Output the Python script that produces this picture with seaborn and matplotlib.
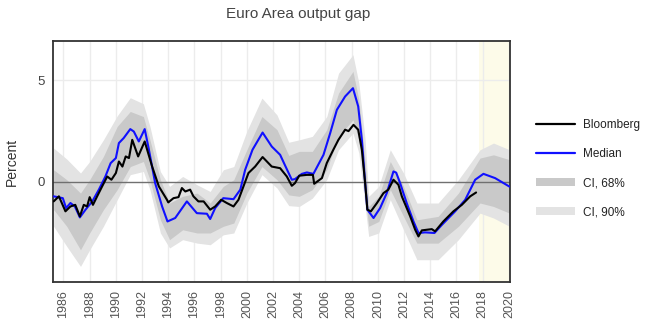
import numpy as np
import pandas as pd
import matplotlib
matplotlib.use("Agg")
import matplotlib.pyplot as plt
from matplotlib.patches import Patch
from matplotlib.lines import Line2D
import seaborn as sns

# ---------------- data ----------------
median_t = [1985.25, 1985.95, 1986.2, 1986.53, 1986.87, 1987.25, 1987.68, 1988.2, 1988.7, 1989.2,
            1989.6, 1990.0, 1990.23, 1990.6, 1991.1, 1991.37, 1991.75, 1992.2, 1992.5, 1993.0,
            1993.53, 1993.94, 1994.53, 1995.42, 1996.18, 1996.95, 1997.2, 1997.58, 1998.2, 1998.98,
            1999.5, 1999.87, 2000.43, 2001.2, 2001.9, 2002.54, 2002.92, 2003.43, 2003.67, 2004.2,
            2004.58, 2005.08, 2005.85, 2006.36, 2006.87, 2007.5, 2008.1, 2008.5, 2008.78, 2009.03,
            2009.2, 2009.67, 2010.17, 2010.68, 2011.19, 2011.4, 2011.7, 2012.2, 2012.72, 2013.1,
            2013.61, 2014.32, 2014.9, 2015.9, 2016.67, 2017.43, 2018.06, 2018.95, 2020.05]
median_v = [-0.72, -0.81, -1.3, -1.05, -1.22, -1.76, -1.38, -0.97, -0.39, 0.26,
            0.92, 1.17, 1.91, 2.16, 2.6, 2.48, 1.99, 2.6, 1.66, -0.07,
            -1.22, -1.96, -1.79, -0.97, -1.55, -1.58, -1.84, -1.30, -0.81, -0.86,
            -0.39, 0.59, 1.58, 2.43, 1.74, 1.33, 0.80, 0.1, 0.13, 0.39,
            0.46, 0.39, 1.33, 2.4, 3.55, 4.21, 4.62, 3.72, 2.07, -0.07,
            -1.38, -1.79, -1.30, -0.56, 0.51, 0.45, -0.07, -1.05, -1.96, -2.53,
            -2.5, -2.53, -2.12, -1.46, -0.89, 0.1, 0.39, 0.18, -0.24]

bloomberg_t = [1985.25, 1985.65, 1986.15, 1986.53, 1986.9, 1987.25, 1987.55, 1987.8, 1988.0, 1988.25,
               1988.57, 1988.95, 1989.34, 1989.66, 1990.0, 1990.23, 1990.5, 1990.75, 1991.0, 1991.25,
               1991.7, 1992.2, 1992.77, 1993.28, 1993.9, 1994.0, 1994.4, 1994.78, 1995.04, 1995.3,
               1995.67, 1995.92, 1996.3, 1996.7, 1997.2, 1997.58, 1998.04, 1998.47, 1998.98, 1999.36,
               1999.74, 2000.12, 2000.63, 2001.2, 2001.9, 2002.54, 2003.05, 2003.43, 2003.67, 2004.0,
               2004.58, 2005.04, 2005.14, 2005.73, 2006.1, 2006.6, 2006.99, 2007.5, 2007.76, 2008.14,
               2008.5, 2008.78, 2009.03, 2009.2, 2009.47, 2009.93, 2010.43, 2010.8, 2011.19, 2011.57,
               2011.83, 2012.47, 2012.85, 2013.1, 2013.36, 2014.12, 2014.37, 2015.0, 2015.77, 2016.41,
               2017.05, 2017.5]
bloomberg_v = [-0.97, -0.72, -1.46, -1.22, -1.14, -1.71, -1.14, -1.22, -0.76, -1.14,
               -0.72, -0.23, 0.26, 0.1, 0.43, 1.0, 0.75, 1.25, 1.17, 2.07,
               1.25, 1.99, 0.75, -0.23, -0.89, -1.02, -0.81, -0.76, -0.31, -0.48,
               -0.39, -0.72, -0.97, -0.97, -1.38, -1.22, -0.89, -1.05, -1.22, -0.89,
               -0.23, 0.43, 0.75, 1.22, 0.75, 0.67, 0.26, -0.2, -0.07, 0.3,
               0.34, 0.34, -0.1, 0.18, 0.92, 1.58, 2.07, 2.57, 2.5, 2.81,
               2.57, 1.58, -0.07, -1.38, -1.46, -1.05, -0.56, -0.39, 0.1, -0.15,
               -0.72, -1.71, -2.37, -2.7, -2.4, -2.34, -2.45, -1.96, -1.46, -1.14,
               -0.72, -0.53]

band_t = [1985.25, 1986.25, 1987.3, 1988.0, 1989.05, 1990.1, 1991.1, 1992.1, 1992.6, 1993.4,
          1994.1, 1995.1, 1996.2, 1997.2, 1998.2, 1999.0, 2000.0, 2001.15, 2002.3, 2003.2,
          2004.0, 2005.0, 2006.1, 2007.0, 2008.1, 2008.55, 2009.03, 2009.3, 2010.07, 2010.95,
          2011.96, 2012.98, 2014.6, 2016.15, 2017.8, 2018.83, 2020.05]
ci90_hi = [1.66, 1.12, 0.43, 1.0, 2.07, 3.25, 4.15, 3.85, 2.73, 0.5,
           -0.23, 0.26, -0.15, -0.48, 0.59, 0.75, 2.5, 4.13, 3.3, 1.95,
           2.07, 2.24, 3.22, 5.36, 6.27, 4.87, 2.07, -0.72, -0.23, 1.58,
           0.43, -1.05, -1.05, 0.1, 1.58, 1.91, 1.58]
ci68_hi = [0.59, 0.1, -0.56, 0.1, 1.25, 2.73, 3.47, 3.22, 2.07, 0.1,
           -1.05, -0.72, -0.56, -1.05, -0.23, 0.1, 1.58, 3.22, 2.57, 1.3,
           1.5, 1.5, 2.57, 4.38, 5.45, 4.05, 0.92, -1.22, -0.72, 1.0,
           -0.23, -1.88, -1.71, -0.56, 1.17, 1.33, 1.09]
ci68_lo = [-1.38, -2.2, -3.36, -2.53, -1.38, -0.39, 0.75, 1.0, 0.1, -1.88,
           -2.86, -2.37, -2.53, -2.53, -2.2, -2.04, -0.56, 0.75, 0.1, -0.65,
           -0.72, -0.39, 0.59, 2.24, 3.06, 2.07, -0.72, -2.2, -1.96, -0.39,
           -1.71, -3.03, -3.03, -2.2, -1.05, -1.22, -1.55]
ci90_lo = [-2.2, -3.19, -4.18, -3.36, -2.2, -0.89, 0.35, 0.51, -0.39, -2.53,
           -3.27, -2.86, -3.03, -3.11, -2.62, -2.53, -1.05, 0.35, -0.31, -1.18,
           -1.22, -0.81, 0.1, 1.58, 2.4, 1.42, -1.22, -2.7, -2.53, -0.89,
           -2.37, -3.85, -3.85, -2.86, -1.55, -1.79, -2.2]

forecast_start = 2017.75
x_ticks = list(range(1986, 2021, 2))
y_ticks = [0, 5]

# ---------------- plot ----------------
sns.set_theme(style="white")
plt.rcParams['font.family'] = ['Liberation Sans', 'DejaVu Sans']

fig = plt.figure(figsize=(6.5, 3.28), dpi=100)
ax = fig.add_axes([53/650, 46/328, 456.5/650, 241/328])

C68 = "#c9c9c9"
C90 = "#e3e3e3"

ax.axvspan(forecast_start, 2021, color="#fdfbe9", zorder=0, lw=0)
for t in x_ticks:
    ax.axvline(t, color="#ececec", lw=1, zorder=0.5)
ax.axhline(5, color="#ececec", lw=1, zorder=0.5)

ax.fill_between(band_t, ci90_lo, ci90_hi, color=C90, lw=0, zorder=1)
ax.fill_between(band_t, ci68_lo, ci68_hi, color=C68, lw=0, zorder=1.2)
ax.axhline(0, color="#707070", lw=1, zorder=1.5)

df_m = pd.DataFrame({"t": median_t, "v": median_v})
df_b = pd.DataFrame({"t": bloomberg_t, "v": bloomberg_v})
sns.lineplot(data=df_m, x="t", y="v", ax=ax, color="#1010ff", lw=1.5, zorder=3)
sns.lineplot(data=df_b, x="t", y="v", ax=ax, color="black", lw=1.5, zorder=4)

ax.set_xlim(1985.2, 2020.05)
ax.set_ylim(-4.95, 6.95)
ax.set_xticks(x_ticks)
ax.set_xticklabels([str(t) for t in x_ticks], rotation=90, fontsize=9, color="#555555")
ax.set_yticks(y_ticks)
ax.set_yticklabels([str(t) for t in y_ticks], fontsize=9.5, color="#444444")
ax.tick_params(axis="both", length=0, pad=6)
ax.set_xlabel("")
ax.set_ylabel("Percent", fontsize=10, color="#333333", labelpad=13)
for s in ax.spines.values():
    s.set_color("#333333")
    s.set_linewidth(1.3)

fig.text(298/650, 1 - 14/328, "Euro Area output gap", ha="center", va="center",
         fontsize=11, color="#444444")

handles = [Line2D([0], [0], color="black", lw=1.6),
           Line2D([0], [0], color="#1010ff", lw=1.6),
           Patch(facecolor=C68, edgecolor="none"),
           Patch(facecolor=C90, edgecolor="none")]
labels = ["Bloomberg", "Median", "CI, 68%", "CI, 90%"]
ax.legend(handles, labels, loc="center left", bbox_to_anchor=(1.035, 0.47),
          frameon=False, fontsize=8.5, handlelength=3.3, handleheight=0.6,
          labelspacing=1.45, handletextpad=0.7, labelcolor="#222222")

fig.savefig("out.png", dpi=100)
